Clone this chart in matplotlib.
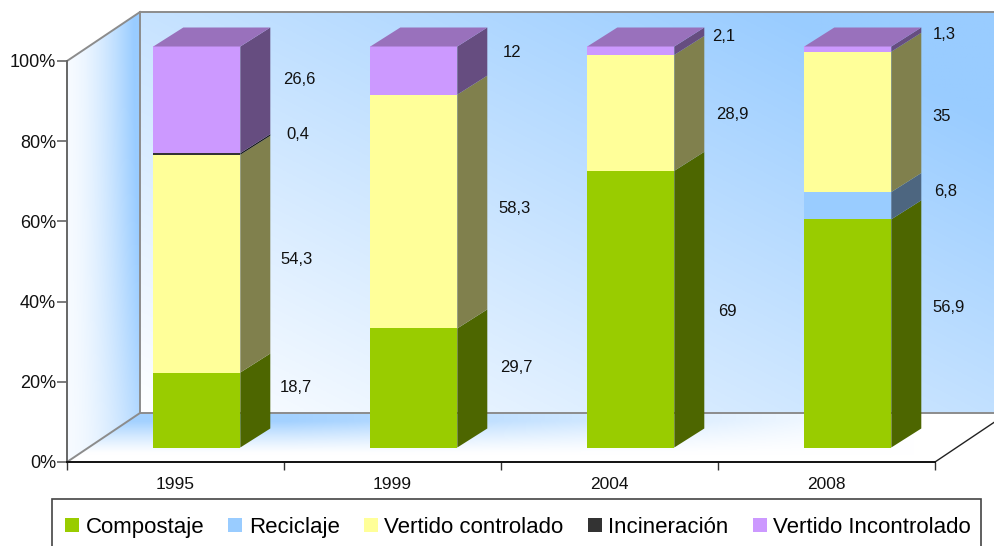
import numpy as np
from matplotlib import pyplot as plt
from matplotlib.patches import Patch, Polygon, Rectangle

plt.rcParams['font.family'] = ['Liberation Sans', 'DejaVu Sans']

years = ["1995", "1999", "2004", "2008"]
series = ["Compostaje", "Reciclaje", "Vertido controlado", "Incineración", "Vertido Incontrolado"]
compostaje = [18.7, 29.7, 69, 56.9]
reciclaje = [0, 0, 0, 6.8]
controlado = [54.3, 58.3, 28.9, 35]
incineracion = [0.4, 0, 0, 0]
incontrolado = [26.6, 12, 2.1, 1.3]
y_ticks = [0, 20, 40, 60, 80, 100]

front = ["#99CC00", "#99CCFF", "#FFFF99", "#333333", "#CC99FF"]
side = ["#4D6600", "#4D6680", "#80804D", "#1A1A1A", "#664D80"]
top_color = "#9971BC"

# label centres in image pixels (they were moved by hand in the original)
label_px = {
    (0, 0): (296, 388), (0, 2): (297, 260), (0, 3): (298, 135), (0, 4): (299, 80),
    (1, 0): (516, 367), (1, 2): (515, 209), (1, 4): (512, 53),
    (2, 0): (727, 311), (2, 2): (732, 115), (2, 4): (724, 37),
    (3, 0): (949, 308), (3, 1): (946, 192), (3, 2): (942, 117), (3, 4): (944, 35),
}

W, H = 995, 546
x0, x1, y0, y100 = 67, 935, 462, 61
fig = plt.figure(figsize=(W / 100, H / 100), dpi=100, facecolor="white")
ax = fig.add_axes([x0 / W, (H - y0) / H, (x1 - x0) / W, (y0 - y100) / H])
ax.set_xlim(0, 4)
ax.set_ylim(0, 100)
ax.patch.set_alpha(0)

ux = (x1 - x0) / 4  # pixels per category
uy = (y0 - y100) / 100  # pixels per percent


def px(x, y):
    return (x - x0) / ux, (y0 - y) / uy


def gradient(poly, func, box):
    # poly and box are in pixels, func gives rgb for pixel grids
    xs = np.linspace(box[0], box[1], 256)
    ys = np.linspace(box[2], box[3], 256)
    gx, gy = np.meshgrid(xs, ys)
    img = func((gx - box[0]) / (box[1] - box[0]), (gy - box[2]) / (box[3] - box[2]))
    l, t = px(box[0], box[2])
    r, b = px(box[1], box[3])
    im = ax.imshow(img, extent=[l, r, b, t], aspect="auto", origin="upper", zorder=0)
    im.set_clip_box(fig.bbox)
    im.set_clip_path(Polygon([px(*p) for p in poly], transform=ax.transData))


blue = np.array([0x99, 0xCC, 0xFF]) / 255
white = np.array([0xFF, 0xFF, 0xFF]) / 255


def mix(t):
    t = np.clip(t, 0, 1)[..., None]
    return white * (1 - t) + blue * t


depth_x, depth_y = 73, 49
back_right = x1 + depth_x
gradient([(140, 12), (back_right, 12), (back_right, 413), (140, 413)],
         lambda u, v: mix(1.1 * (0.5 * (1 - v) + 0.55 * u)),
         (140, back_right, 12, 413))
gradient([(x0, y100), (140, 12), (140, 413), (x0, y0)],
         lambda u, v: mix(0.08 + u ** 1.6 * (1.05 - 0.45 * v ** 2)),
         (x0, 140, 12, y0))
gradient([(140, 413), (back_right, 413), (x1, y0), (x0, y0)],
         lambda u, v: mix(np.clip(1.25 - 1.5 * v, 0, 1) ** 1.2 * np.clip(1.35 - 1.5 * u, 0, 1) * 0.9),
         (x0, back_right, 413, y0))

# wall outlines
for a, b in [((x0, y100), (140, 12)), ((140, 12), (140, 413)), ((140, 12), (back_right, 12)),
             ((140, 413), (back_right, 413)), ((x0, y0), (140, 413))]:
    ax.plot(*zip(px(*a), px(*b)), color="#8C8C8C", lw=1.4, clip_on=False, zorder=1)
ax.plot(*zip(px(x1, y0), px(back_right, 413)), color="#222222", lw=1, clip_on=False, zorder=1)

# bars
values = [compostaje, reciclaje, controlado, incineracion, incontrolado]
bar_w = 87 / ux
gap_x, gap_y = 21.3 / ux, 14.5 / uy
dx, dy = 30 / ux, 19 / uy
centers = np.arange(len(years)) + 0.5 + gap_x
bottom = np.zeros(len(years)) + gap_y
for s, vals in enumerate(values):
    vals = np.array(vals, dtype=float)
    ax.bar(centers, vals, bar_w, bottom=bottom, color=front[s], linewidth=0, clip_on=False, zorder=3)
    for i, v in enumerate(vals):
        if v == 0:
            continue
        r = centers[i] + bar_w / 2
        ax.add_patch(Polygon([(r, bottom[i]), (r + dx, bottom[i] + dy), (r + dx, bottom[i] + v + dy),
                              (r, bottom[i] + v)], closed=True, facecolor=side[s], linewidth=0,
                             clip_on=False, zorder=3))
    bottom = bottom + vals
for i in range(len(years)):
    l, r = centers[i] - bar_w / 2, centers[i] + bar_w / 2
    ax.add_patch(Polygon([(l, bottom[i]), (r, bottom[i]), (r + dx, bottom[i] + dy), (l + dx, bottom[i] + dy)],
                         closed=True, facecolor=top_color, linewidth=0, clip_on=False, zorder=3))

# value labels
for (i, s), (lx, ly) in label_px.items():
    txt = f"{values[s][i]:g}".replace(".", ",")
    ax.text(*px(lx, ly), txt, ha="center", va="center", fontsize=12, color="#111111", clip_on=False, zorder=5)

# axes
for name in ["top", "right"]:
    ax.spines[name].set_visible(False)
ax.spines["left"].set_color("#666666")
ax.spines["left"].set_linewidth(1.4)
ax.spines["bottom"].set_color("#111111")
ax.spines["bottom"].set_linewidth(1.4)
ax.set_yticks(y_ticks)
ax.set_yticklabels([f"{t}%" for t in y_ticks], fontsize=13, color="#111111")
ax.tick_params(axis="y", length=7, width=1.2, color="#666666", pad=1)
ax.set_xticks(range(len(years) + 1))
ax.set_xticklabels([])
ax.tick_params(axis="x", length=6, width=1, color="#333333")
ax.set_xticks(np.arange(len(years)) + 0.5, labels=years, minor=True, fontsize=12.5)
ax.tick_params(axis="x", which="minor", length=0, pad=11, labelcolor="#111111")
ax.set_xlim(0, 4)
ax.set_ylim(0, 100)

# legend, its box runs off the bottom of the image
fig.add_artist(Rectangle((52 / W, -20 / H), 929 / W, (47 + 20) / H, transform=fig.transFigure,
                         facecolor="white", edgecolor="#444444", linewidth=1.2))
handles = [Patch(facecolor=c, edgecolor="none", label=n) for c, n in zip(front, series)]
leg = fig.legend(handles=handles, ncol=5, loc="upper left",
                 bbox_to_anchor=(65 / W, 0, 906 / W, 29 / H), mode="expand",
                 bbox_transform=fig.transFigure, borderaxespad=0, borderpad=0, fontsize=16,
                 handlelength=0.63, handleheight=0.63, handletextpad=0.3, columnspacing=0.8,
                 frameon=False)

fig.savefig("out.png", dpi=100)
